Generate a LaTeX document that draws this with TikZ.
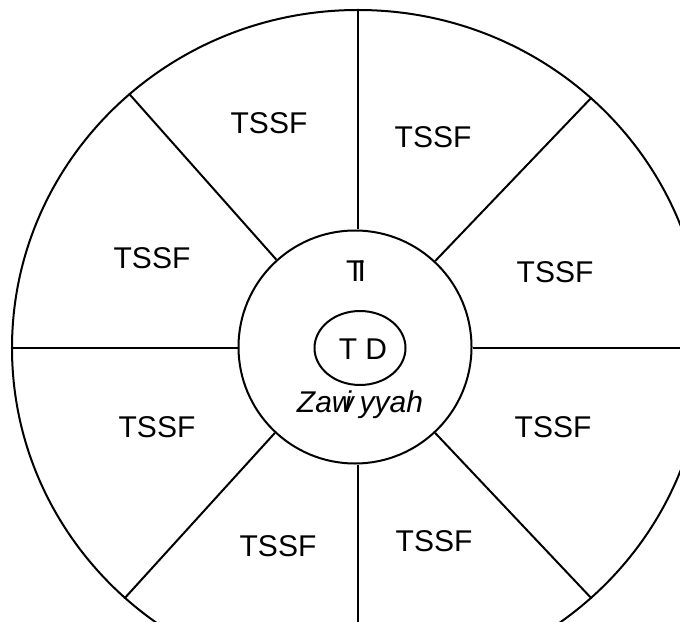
\documentclass[tikz,border=0pt]{standalone}
\usepackage{fontspec}
\setmainfont{Liberation Sans}
\usetikzlibrary{shapes.geometric}
\begin{document}
\begin{tikzpicture}[x=1bp,y=-1bp,
  ring/.style={draw,line width=2bp,inner sep=0pt},
  spoke/.style={line width=2bp},
  lbl/.style={font=\fontsize{30bp}{32bp}\selectfont,inner sep=0pt}]
\useasboundingbox (0,0) rectangle (680,622);
\clip (0,0) rectangle (680,622);
\fill[white] (0,0) rectangle (680,622);
\node[ring,ellipse,minimum width=692bp,minimum height=676bp] (outer) at (358,348) {};
\node[ring,circle,minimum size=233bp] (inner) at (355,347) {};
\node[ring,ellipse,minimum width=91bp,minimum height=74bp] (td) at (360,348) {};
\node[lbl] (tdt) at (363,349) {T D};
\node[lbl] (ti) at (356,271) {T\kern-0.23em I};
\node[lbl,font=\fontsize{30bp}{32bp}\selectfont\itshape] (zaw) at (360,405) {Zaw\kern-0.3em i yyah};
\draw[spoke] (inner.north -| outer.north) -- (outer.north);
\draw[spoke] (inner.south -| outer.south) -- (outer.south);
\draw[spoke] (inner.west |- outer.west) -- (outer.west);
\draw[spoke] (inner.east |- outer.east) -- (outer.east);
\draw[spoke] (inner.132) -- (outer.132);
\draw[spoke] (inner.47) -- (outer.47);
\draw[spoke] (inner.227) -- (outer.227);
\draw[spoke] (inner.313) -- (outer.313);
\node[lbl] (s1) at (269,123) {TSSF};
\node[lbl] (s2) at (433,137) {TSSF};
\node[lbl] (s3) at (152,258) {TSSF};
\node[lbl] (s4) at (555,272) {TSSF};
\node[lbl] (s5) at (157,427) {TSSF};
\node[lbl] (s6) at (553,427) {TSSF};
\node[lbl] (s7) at (278,546) {TSSF};
\node[lbl] (s8) at (434,541) {TSSF};
\end{tikzpicture}
\end{document}
